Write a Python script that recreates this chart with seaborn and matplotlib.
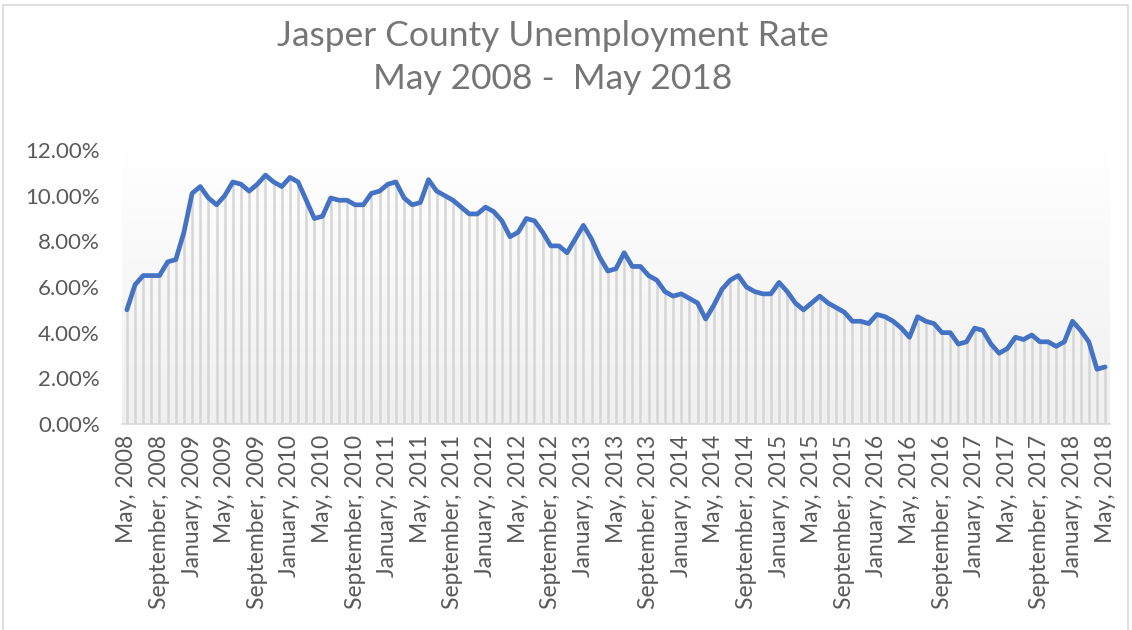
import numpy as np
import pandas as pd
import matplotlib
matplotlib.use("Agg")
import matplotlib.pyplot as plt
import seaborn as sns
from matplotlib.patches import Rectangle
from matplotlib.ticker import FuncFormatter

# Monthly unemployment rate (%), May 2008 .. May 2018
rate = [5.0, 6.1, 6.5, 6.5, 6.5, 7.1, 7.2, 8.4, 10.1, 10.4,
        9.9, 9.6, 10.0, 10.6, 10.5, 10.2, 10.5, 10.9, 10.6, 10.4,
        10.8, 10.6, 9.8, 9.0, 9.1, 9.9, 9.8, 9.8, 9.6, 9.6,
        10.1, 10.2, 10.5, 10.6, 9.9, 9.6, 9.7, 10.7, 10.2, 10.0,
        9.8, 9.5, 9.2, 9.2, 9.5, 9.3, 8.9, 8.2, 8.4, 9.0,
        8.9, 8.4, 7.8, 7.8, 7.5, 8.1, 8.7, 8.1, 7.3, 6.7,
        6.8, 7.5, 6.9, 6.9, 6.5, 6.3, 5.8, 5.6, 5.7, 5.5,
        5.3, 4.6, 5.2, 5.9, 6.3, 6.5, 6.0, 5.8, 5.7, 5.7,
        6.2, 5.8, 5.3, 5.0, 5.3, 5.6, 5.3, 5.1, 4.9, 4.5,
        4.5, 4.4, 4.8, 4.7, 4.5, 4.2, 3.8, 4.7, 4.5, 4.4,
        4.0, 4.0, 3.5, 3.6, 4.2, 4.1, 3.5, 3.1, 3.3, 3.8,
        3.7, 3.9, 3.6, 3.6, 3.4, 3.6, 4.5, 4.1, 3.6, 2.4, 2.5]

tick_labels = ["May, 2008", "September, 2008",
               "January, 2009", "May, 2009", "September, 2009",
               "January, 2010", "May, 2010", "September, 2010",
               "January, 2011", "May, 2011", "September, 2011",
               "January, 2012", "May, 2012", "September, 2012",
               "January, 2013", "May, 2013", "September, 2013",
               "January, 2014", "May, 2014", "September, 2014",
               "January, 2015", "May, 2015", "September, 2015",
               "January, 2016", "May, 2016", "September, 2016",
               "January, 2017", "May, 2017", "September, 2017",
               "January, 2018", "May, 2018"]
y_ticks = [0, 2, 4, 6, 8, 10, 12]

title_lines = ["Jasper County Unemployment Rate", "May 2008 -  May 2018"]

sns.set_theme(style="white")
plt.rcParams['font.family'] = ['Lato', 'DejaVu Sans']

W, H = 1132, 630
fig = plt.figure(figsize=(W / 100, H / 100), dpi=100)
fig.patch.set_facecolor("white")

# chart border
fig.patches.append(Rectangle((3 / W, -0.05), (1128 - 3) / W, 1 - 5 / H + 0.05,
                             transform=fig.transFigure, fill=False,
                             edgecolor="#d9d9d9", linewidth=1.2))

ax = fig.add_axes([122 / W, 1 - 424 / H, (1110 - 122) / W, (424 - 150) / H])

df = pd.DataFrame({"idx": np.arange(len(rate)), "rate": rate})

# gradient background of plot area
grad = np.linspace(0, 1, 256).reshape(-1, 1)
top_c = np.array([1.0, 1.0, 1.0])
bot_c = np.array([0.94, 0.94, 0.94])
img = top_c[None, None, :] * (1 - grad[:, :, None]) + bot_c[None, None, :] * grad[:, :, None]
ax.imshow(img, extent=[0, 1, 0, 1], transform=ax.transAxes, aspect="auto", zorder=0)

# drop lines
ax.vlines(df["idx"], 0, df["rate"], colors="#d6d6d6", linewidth=1.8, zorder=1)

sns.lineplot(data=df, x="idx", y="rate", ax=ax, color="#4472C4", linewidth=3.4,
             zorder=3)

ax.set_xlim(-0.6, len(rate) - 1 + 0.6)
ax.set_ylim(0, 12)
ax.set_yticks(y_ticks)
ax.yaxis.set_major_formatter(FuncFormatter(lambda v, p: f"{v:.2f}%"))
ax.set_xticks(np.arange(0, len(rate), 4))
ax.set_xticklabels(tick_labels, rotation=90, va="top", ha="center", fontsize=16.5)
for t in ax.get_yticklabels():
    t.set_fontsize(16)
ax.tick_params(axis="x", colors="#595959", length=0, pad=8)
ax.tick_params(axis="y", colors="#595959", length=0, pad=16)
ax.set_xlabel("")
ax.set_ylabel("")
for s in ["top", "right", "left"]:
    ax.spines[s].set_visible(False)
ax.spines["bottom"].set_color("#d9d9d9")
ax.spines["bottom"].set_linewidth(1.2)
ax.grid(False)

fig.text(0.4885, 1 - 36 / H, title_lines[0], ha="center", va="center",
         fontsize=25.5, color="#757575")
fig.text(0.4885, 1 - 79 / H, title_lines[1], ha="center", va="center",
         fontsize=25.5, color="#757575")

fig.savefig("out.png", dpi=100)
